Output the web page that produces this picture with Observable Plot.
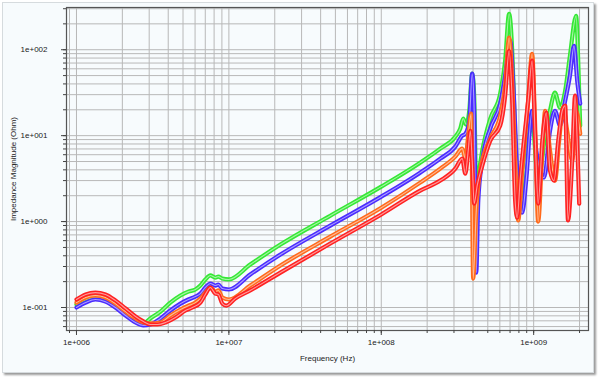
<!DOCTYPE html>
<html><head><meta charset="utf-8">
<script src="https://cdn.jsdelivr.net/npm/d3@7"></script>
<script src="https://cdn.jsdelivr.net/npm/@observablehq/plot@0.6"></script>
<style>
body{margin:0;background:#fff;}
#wrap{position:relative;width:600px;height:380px;overflow:hidden}
#panel{position:absolute;left:2px;top:2px;width:590px;height:369px;background:#f7fbfd;border:1px solid #d6dbde;box-shadow:2px 2px 2px #9a9a9a;}
#chart{position:absolute;left:0;top:0}
</style></head><body>
<div id="wrap"><div id="panel"></div><div id="chart"></div></div>
<script>
// Frequency (Hz), impedance (Ohm) pairs
const green = [[1.00e6,0.108],[1.15e6,0.124],[1.33e6,0.131],[1.55e6,0.124],[1.80e6,0.105],[2.10e6,0.0851],[2.44e6,0.0706],[2.75e6,0.0652],[3.05e6,0.0745],[3.56e6,0.0898],[4.13e6,0.114],[4.81e6,0.138],[5.42e6,0.153],[6.03e6,0.162],[6.50e6,0.180],[7.01e6,0.212],[7.56e6,0.236],[8.15e6,0.223],[8.53e6,0.229],[9.06e6,0.217],[1.0e7,0.212],[1.38e7,0.316],[2.18e7,0.540],[4.63e7,1.17],[1.0e8,2.55],[1.80e8,4.85],[2.44e8,7.06],[3.06e8,9.73],[3.30e8,12.1],[3.45e8,15.8],[3.61e8,13.4],[3.78e8,19.5],[3.95e8,52.6],[4.07e8,29.2],[4.20e8,2.62],[4.33e8,3.43],[4.60e8,6.69],[5.19e8,15.8],[6.03e8,30.8],[6.50e8,74.5],[6.90e8,262],[7.23e8,97.3],[7.56e8,8.75],[7.80e8,1.11],[8.15e8,1.75],[8.79e8,4.48],[9.77e8,14.9],[1.07e9,3.00],[1.19e9,10.0],[1.28e9,19.5],[1.38e9,31.6],[1.49e9,21.2],[1.61e9,33.4],[1.73e9,85.2],[1.90e9,248],[1.96e9,74.5],[2.02e9,13.1]];
const blue = [[1.00e6,0.100],[1.15e6,0.114],[1.33e6,0.124],[1.55e6,0.117],[1.80e6,0.100],[2.10e6,0.0807],[2.44e6,0.0669],[2.75e6,0.0618],[3.05e6,0.0634],[3.56e6,0.0745],[4.13e6,0.0923],[4.81e6,0.111],[5.42e6,0.124],[6.03e6,0.134],[6.50e6,0.145],[7.01e6,0.171],[7.56e6,0.190],[8.15e6,0.180],[8.53e6,0.185],[9.06e6,0.166],[1.0e7,0.162],[1.38e7,0.242],[2.18e7,0.413],[4.63e7,0.898],[1.0e8,1.95],[1.80e8,3.71],[2.44e8,5.40],[3.06e8,7.45],[3.40e8,10.0],[3.56e8,10.5],[3.78e8,14.9],[3.95e8,52.6],[4.07e8,19.5],[4.20e8,0.255],[4.33e8,1.75],[4.60e8,5.12],[5.19e8,12.1],[6.03e8,23.6],[6.50e8,49.9],[7.01e8,127],[7.34e8,41.3],[7.80e8,3.92],[8.41e8,1.27],[8.93e8,3.00],[9.77e8,19.5],[1.04e9,6.69],[1.10e9,3.92],[1.17e9,3.25],[1.28e9,11.4],[1.38e9,19.5],[1.49e9,13.1],[1.61e9,25.5],[1.73e9,49.9],[1.84e9,111],[1.93e9,43.6],[2.02e9,23.6]];
const orange = [[1.00e6,0.114],[1.15e6,0.131],[1.33e6,0.138],[1.55e6,0.131],[1.80e6,0.111],[2.10e6,0.0898],[2.44e6,0.0745],[2.75e6,0.0669],[3.05e6,0.0652],[3.56e6,0.0669],[4.13e6,0.0807],[4.81e6,0.0948],[5.42e6,0.105],[6.03e6,0.114],[6.50e6,0.127],[7.01e6,0.149],[7.56e6,0.171],[8.15e6,0.153],[8.53e6,0.158],[9.06e6,0.131],[1.0e7,0.124],[1.38e7,0.180],[2.18e7,0.308],[4.63e7,0.669],[1.0e8,1.45],[1.80e8,2.84],[2.44e8,4.13],[3.06e8,5.70],[3.40e8,7.06],[3.56e8,5.40],[3.72e8,10.0],[3.89e8,18.0],[4.01e8,0.217],[4.20e8,1.34],[4.46e8,3.92],[5.19e8,9.23],[6.03e8,17.1],[6.50e8,38.1],[6.90e8,138],[7.23e8,43.6],[7.56e8,5.12],[7.91e8,1.03],[8.41e8,3.92],[9.20e8,25.5],[9.77e8,89.8],[1.02e9,14.9],[1.07e9,1.00],[1.14e9,6.69],[1.19e9,19.5],[1.28e9,6.69],[1.38e9,3.00],[1.47e9,8.75],[1.56e9,21.2],[1.66e9,11.4],[1.79e9,5.12],[1.90e9,19.5],[2.02e9,10.5]];
const red = [[1.00e6,0.124],[1.15e6,0.142],[1.33e6,0.149],[1.55e6,0.142],[1.80e6,0.121],[2.10e6,0.0975],[2.44e6,0.0786],[2.75e6,0.0688],[3.05e6,0.0634],[3.40e6,0.0634],[3.84e6,0.0669],[4.46e6,0.0766],[5.19e6,0.0923],[5.76e6,0.100],[6.50e6,0.114],[7.01e6,0.142],[7.56e6,0.171],[8.15e6,0.145],[8.53e6,0.142],[9.06e6,0.111],[9.63e6,0.105],[1.10e7,0.127],[1.38e7,0.158],[2.18e7,0.255],[4.63e7,0.555],[1.0e8,1.21],[1.80e8,2.29],[2.44e8,3.00],[3.06e8,4.13],[3.40e8,5.40],[3.56e8,3.61],[3.72e8,6.69],[3.84e8,11.4],[3.95e8,5.12],[4.07e8,1.62],[4.26e8,2.62],[4.60e8,4.48],[5.19e8,8.75],[6.03e8,13.1],[6.50e8,29.2],[6.90e8,97.3],[7.23e8,25.5],[7.56e8,1.75],[7.80e8,1.11],[8.15e8,3.00],[9.20e8,25.5],[9.77e8,74.5],[1.02e9,11.4],[1.07e9,1.62],[1.14e9,8.75],[1.21e9,18.5],[1.28e9,3.92],[1.36e9,3.00],[1.45e9,8.75],[1.54e9,19.5],[1.61e9,22.3],[1.68e9,1.03],[1.79e9,5.12],[1.87e9,29.2],[1.93e9,8.75],[1.99e9,1.62]];

const seriesNames = ["green","blue","orange","red"];
const seriesColors = ["#35e835","#4a2cff","#ff6a1c","#ff2222"];
const seriesData = [green, blue, orange, red];

const xMajor = [1e6, 1e7, 1e8, 1e9];
const xTickLabels = ["1e+006","1e+007","1e+008","1e+009"];
const yMajor = [0.1, 1, 10, 100];
const yTickLabels = ["1e-001","1e+000","1e+001","1e+002"];

const xDomain = [8.6e5, 2.29e9];
const yDomain = [0.054, 310];

// minor (1..9 x decade) grid positions within the domains
function decadeTicks(lo, hi) {
  const out = [];
  for (let e = Math.floor(Math.log10(lo)); e <= Math.ceil(Math.log10(hi)); e++)
    for (let m = 1; m <= 9; m++) { const v = m * Math.pow(10, e); if (v >= lo && v <= hi) out.push(+v.toPrecision(3)); }
  return out;
}
const xGrid = decadeTicks(xDomain[0], xDomain[1]);
const yGrid = decadeTicks(yDomain[0], yDomain[1]);

const rows = seriesData.map((arr, i) => arr.map(([f, z]) => ({series: seriesNames[i], f, z})));

const marks = [
  Plot.gridX(xGrid, {stroke: "#b8b8b8", strokeOpacity: 1, strokeWidth: 1}),
  Plot.gridY(yGrid, {stroke: "#b8b8b8", strokeOpacity: 1, strokeWidth: 1}),
];
rows.forEach((r, i) => {
  marks.push(Plot.line(r, {x: "f", y: "z", stroke: seriesColors[i], strokeWidth: 4.2, curve: "monotone-x", strokeLinejoin: "round"}));
  marks.push(Plot.line(r, {x: "f", y: "z", stroke: "white", strokeWidth: 1.1, strokeOpacity: 0.55, curve: "monotone-x"}));
});
marks.push(
  Plot.frame({stroke: "#555", strokeWidth: 1.2}),
  Plot.axisX(xGrid, {tickSize: 3, tickFormat: () => "", stroke: "#444", label: null}),
  Plot.axisX(xMajor, {tickSize: 5, tickPadding: 4, tickFormat: d => xTickLabels[xMajor.indexOf(d)], stroke: "#444",
    label: "Frequency (Hz)", labelAnchor: "center", labelArrow: "none", labelOffset: 30}),
  Plot.axisY(yGrid, {tickSize: 3, tickFormat: () => "", stroke: "#444", label: null}),
  Plot.axisY(yMajor, {tickSize: 5, tickPadding: 14, tickFormat: d => yTickLabels[yMajor.indexOf(d)], stroke: "#444",
    label: "Impedance Magnitude (Ohm)", labelAnchor: "center", labelArrow: "none", labelOffset: 56})
);

const chart = Plot.plot({
  width: 600, height: 380,
  marginLeft: 66, marginRight: 12, marginTop: 7, marginBottom: 50,
  style: {background: "transparent", fontFamily: "Liberation Sans, Arial, sans-serif", fontSize: "8px", color: "#222"},
  x: {type: "log", domain: xDomain},
  y: {type: "log", domain: yDomain},
  marks
});
document.getElementById("chart").appendChild(chart);
</script></body></html>
